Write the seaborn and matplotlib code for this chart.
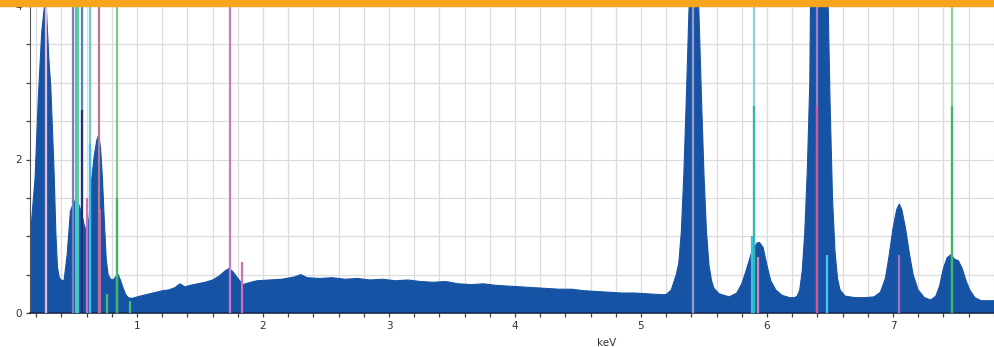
import matplotlib
matplotlib.use("Agg")
import matplotlib.pyplot as plt
from matplotlib.patches import Rectangle
from matplotlib.ticker import MultipleLocator
import pandas as pd
import seaborn as sns

# spectrum (keV, counts)
kev = [0.150, 0.165, 0.190, 0.216, 0.243, 0.263, 0.272, 0.282, 0.300, 0.315,
       0.328, 0.341, 0.355, 0.368, 0.381, 0.395, 0.420, 0.445, 0.471, 0.500,
       0.520, 0.540, 0.560, 0.580, 0.600, 0.620, 0.640, 0.660, 0.680, 0.695,
       0.710, 0.725, 0.740, 0.755, 0.770, 0.790, 0.810, 0.830, 0.850, 0.870,
       0.890, 0.910, 0.930, 0.960, 1.000,
       1.05, 1.10, 1.15, 1.20, 1.25, 1.30, 1.34, 1.38, 1.42, 1.48,
       1.54, 1.60, 1.65, 1.70, 1.73, 1.76, 1.80, 1.84, 1.88, 1.95,
       2.05, 2.15, 2.25, 2.30, 2.35, 2.45, 2.55, 2.65, 2.75, 2.85,
       2.95, 3.05, 3.15, 3.25, 3.35, 3.45, 3.55, 3.65, 3.75, 3.85,
       3.95, 4.05, 4.15, 4.25, 4.35, 4.45, 4.55, 4.65, 4.75, 4.85,
       4.95, 5.05, 5.15, 5.20, 5.24, 5.28, 5.30, 5.32, 5.34, 5.36,
       5.38, 5.40, 5.42, 5.44, 5.46, 5.48, 5.50, 5.52, 5.54, 5.56,
       5.58, 5.62, 5.66, 5.70, 5.76, 5.80, 5.84, 5.88, 5.92, 5.94,
       5.97, 6.00, 6.03, 6.07, 6.12, 6.18, 6.22, 6.24, 6.26, 6.28,
       6.30, 6.32, 6.34, 6.36, 6.38, 6.40, 6.42, 6.44, 6.46, 6.48,
       6.50, 6.52, 6.54, 6.56, 6.58, 6.62, 6.70, 6.78, 6.85, 6.90,
       6.94, 6.97, 7.00, 7.03, 7.05, 7.07, 7.10, 7.13, 7.16, 7.20,
       7.25, 7.30, 7.34, 7.37, 7.40, 7.43, 7.46, 7.49, 7.52, 7.55,
       7.58, 7.61, 7.65, 7.70, 7.75, 7.81]
counts = [0.85, 1.25, 1.75, 2.80, 3.66, 3.97, 4.00, 3.90, 3.30, 2.95,
          2.40, 1.85, 1.05, 0.60, 0.47, 0.43, 0.42, 0.76, 1.33, 1.45,
          1.48, 1.40, 1.30, 1.15, 1.05, 1.25, 1.75, 2.05, 2.25, 2.32,
          2.15, 1.75, 1.20, 0.70, 0.50, 0.44, 0.43, 0.47, 0.50, 0.42,
          0.32, 0.24, 0.20, 0.19, 0.21,
          0.23, 0.25, 0.27, 0.29, 0.30, 0.33, 0.38, 0.34, 0.36, 0.38,
          0.40, 0.43, 0.48, 0.55, 0.58, 0.54, 0.45, 0.37, 0.39, 0.42,
          0.43, 0.44, 0.47, 0.50, 0.46, 0.45, 0.46, 0.44, 0.45, 0.43,
          0.44, 0.42, 0.43, 0.41, 0.40, 0.41, 0.38, 0.37, 0.38, 0.36,
          0.35, 0.34, 0.33, 0.32, 0.31, 0.31, 0.29, 0.28, 0.27, 0.26,
          0.26, 0.25, 0.24, 0.24, 0.30, 0.50, 0.65, 1.05, 1.80, 2.80,
          3.90, 4.70, 5.00, 4.70, 3.90, 2.80, 1.80, 1.05, 0.62, 0.42,
          0.32, 0.25, 0.23, 0.21, 0.26, 0.38, 0.58, 0.80, 0.91, 0.92,
          0.85, 0.62, 0.42, 0.30, 0.23, 0.20, 0.20, 0.22, 0.30, 0.55,
          1.05, 1.85, 3.00, 6.90, 11.3, 12.0, 11.3, 9.40, 6.90, 4.50,
          2.80, 1.50, 0.80, 0.45, 0.30, 0.22, 0.20, 0.20, 0.21, 0.27,
          0.45, 0.75, 1.10, 1.35, 1.42, 1.35, 1.10, 0.78, 0.50, 0.30,
          0.20, 0.17, 0.22, 0.35, 0.58, 0.72, 0.76, 0.70, 0.68, 0.58,
          0.42, 0.30, 0.20, 0.16, 0.16, 0.16]

# element marker lines: position (keV) and height
marker_kev = [0.277, 0.494, 0.515, 0.531, 0.565, 0.565, 0.626, 0.626, 0.525, 0.602,
              0.705, 0.700, 0.843, 0.843, 0.760, 0.940, 1.737, 1.830, 5.410, 5.885,
              5.896, 5.896, 5.930, 6.400, 6.400, 6.480, 7.050, 7.470, 7.470]
marker_height = [4.0, 4.0, 4.0, 4.0, 4.0, 2.65, 4.0, 2.2, 1.45, 1.5,
                 1.35, 4.0, 4.0, 1.5, 0.25, 0.15, 4.0, 0.67, 4.0, 1.0,
                 4.0, 2.7, 0.73, 4.0, 2.7, 0.76, 0.76, 4.0, 2.7]
marker_colors = ["#e6b8d2", "#7b80b8", "#5cc0b0", "#64c8a0", "#4a80c8", "#1e2f80",
                 "#72c8d8", "#38c0e8", "#38c8e8", "#d070b0", "#c05aa8", "#b87890",
                 "#7cc890", "#3cb860", "#40c070", "#40c070", "#c87ac0", "#d070b0",
                 "#9a9acc", "#30c0f0", "#84d4dc", "#30b8a0", "#c090c0", "#a080c0",
                 "#d05a9a", "#40c8f0", "#a070c0", "#88d498", "#3cb860"]

x_ticks = [1, 2, 3, 4, 5, 6, 7]
y_ticks = [0, 2, 4]

df = pd.DataFrame({"keV": kev, "counts": counts})

sns.set_style("white")
plt.rcParams["font.family"] = ["DejaVu Sans"]

fig = plt.figure(figsize=(9.95, 3.47), dpi=100)
ax = fig.add_axes([30 / 995, 1 - 313 / 347, 1 - 30 / 995, (313 - 6) / 347])

fill_color = "#1753a5"
ax.fill_between(df["keV"], 0, df["counts"], color=fill_color, lw=0, zorder=2)
sns.lineplot(data=df, x="keV", y="counts", color=fill_color, lw=0.8, ax=ax, zorder=2)

for x, h, c in zip(marker_kev, marker_height, marker_colors):
    ax.vlines(x, 0, h, color=c, lw=1.6, zorder=3)

ax.set_xlim(0.15, 7.81)
ax.set_ylim(0, 4.0)
ax.set_xticks(x_ticks)
ax.set_yticks(y_ticks)
ax.xaxis.set_minor_locator(MultipleLocator(0.2))
ax.yaxis.set_minor_locator(MultipleLocator(0.5))
ax.grid(which="both", color="#dcdcdc", lw=0.9, zorder=0)
ax.set_axisbelow(True)

ax.tick_params(axis="both", which="both", bottom=True, left=True, direction="out",
               color="#444444", length=3, width=0.9)
ax.tick_params(axis="both", which="major", labelsize=7.5, labelcolor="#333333", pad=3)
for s in ["top", "right"]:
    ax.spines[s].set_visible(False)
ax.spines["left"].set_color("#555555")
ax.spines["bottom"].set_color("#1a2a50")
ax.spines["bottom"].set_linewidth(1.2)

ax.set_ylabel("")
ax.set_xlabel("keV", fontsize=7.5, color="#333333")
ax.xaxis.set_label_coords((4.73 - 0.15) / (7.81 - 0.15), -0.08)

# orange band along the top
fig.patches.append(Rectangle((0, 1 - 6 / 347), 1, 6 / 347, transform=fig.transFigure,
                             color="#f7a51c", zorder=5))

fig.savefig("out.png", dpi=100)
